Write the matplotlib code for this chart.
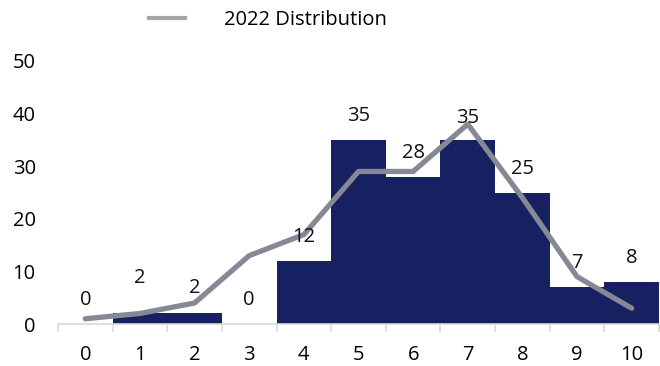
import matplotlib
matplotlib.use('Agg')
import matplotlib.pyplot as plt
from matplotlib.lines import Line2D
import numpy as np

scores = [0, 1, 2, 3, 4, 5, 6, 7, 8, 9, 10]
counts = [0, 2, 2, 0, 12, 35, 28, 35, 25, 7, 8]
dist_2022 = [1, 2, 4, 13, 17, 29, 29, 38, 24, 9, 3]
# vertical offset of each count label above its bar, in pixels
label_offsets = [24, 35, 25, 24, 24, 24, 24, 22, 24, 24, 24]

bar_color = '#172060'
line_color = '#868896'
fs = 14.5

plt.rcParams['font.family'] = ['Open Sans', 'DejaVu Sans']

fig = plt.figure(figsize=(6.6, 3.66), dpi=100)
ax = fig.add_axes([58 / 660, 42 / 366, 601 / 660, 263 / 366])

ax.bar(scores, counts, width=1.0, color=bar_color, zorder=2)
ax.plot(scores, dist_2022, color=line_color, lw=3.8, solid_capstyle='round',
        solid_joinstyle='round', zorder=3)

for x, c, off in zip(scores, counts, label_offsets):
    ax.annotate(str(c), (x, c), xytext=(0, off), textcoords='offset pixels',
                ha='center', va='center', fontsize=fs, color='#111111', zorder=4)

ax.set_xlim(-0.5, 10.5)
ax.set_ylim(0, 50)
ax.set_yticks(range(0, 51, 10))
ax.set_xticks(scores)
ax.set_xticks(np.arange(-0.5, 10.6, 1), minor=True)
ax.tick_params(axis='x', which='major', length=0, pad=15, labelsize=fs)
ax.tick_params(axis='x', which='minor', length=6, width=1.2, color='#d9d9d9')
ax.tick_params(axis='y', length=0, pad=16, labelsize=fs)

for side in ['top', 'right', 'left']:
    ax.spines[side].set_visible(False)
ax.spines['bottom'].set_color('#d9d9d9')
ax.spines['bottom'].set_linewidth(1.2)

handle = Line2D([], [], color='#a5a5a5', lw=3)
fig.legend([handle], ['2022 Distribution'], loc='center',
           bbox_to_anchor=(268 / 660, 1 - 20 / 366), frameon=False,
           fontsize=fs, handlelength=1.8, handletextpad=1.95)

fig.savefig('out.png', dpi=100)
